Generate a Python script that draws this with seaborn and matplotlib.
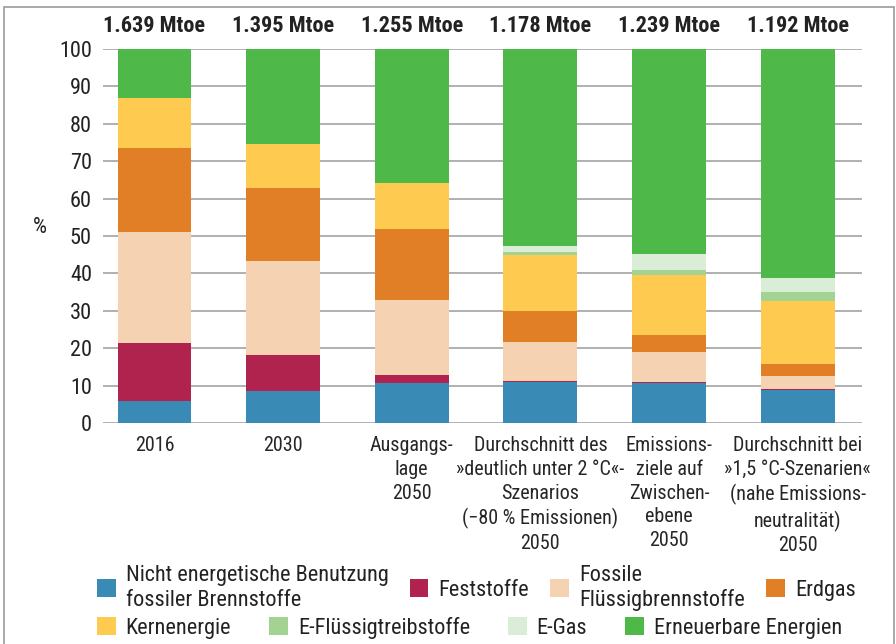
import numpy as np
import pandas as pd
import matplotlib
matplotlib.use("Agg")
import matplotlib.pyplot as plt
import seaborn as sns
from matplotlib import font_manager
from matplotlib.patches import Rectangle, Patch

# scenario keys, tick labels and totals on top
scenarios = ["2016", "2030", "base", "below2", "interim", "c15"]
tick_labels = [
    "2016",
    "2030",
    "Ausgangs-\nlage\n2050",
    "Durchschnitt des\n»deutlich unter 2 °C«-\nSzenarios\n(−80 % Emissionen)\n2050",
    "Emissions-\nziele auf\nZwischen-\nebene\n2050",
    "Durchschnitt bei\n»1,5 °C-Szenarien«\n(nahe Emissions-\nneutralität)\n2050",
]
totals = ["1.639 Mtoe", "1.395 Mtoe", "1.255 Mtoe", "1.178 Mtoe", "1.239 Mtoe", "1.192 Mtoe"]

# shares in % (bottom to top)
non_energy = [6.0, 8.7, 10.6, 10.9, 10.7, 8.8]
solids = [15.4, 9.4, 2.2, 0.3, 0.4, 0.2]
fossil_liquids = [29.7, 25.1, 20.1, 10.5, 8.0, 3.6]
natural_gas = [22.5, 19.7, 19.0, 8.3, 4.4, 3.1]
nuclear = [13.3, 11.7, 12.2, 15.0, 16.1, 16.9]
e_liquids = [0.0, 0.0, 0.0, 0.7, 1.4, 2.4]
e_gas = [0.0, 0.0, 0.0, 1.6, 4.1, 3.7]
renewables = [13.1, 25.4, 35.9, 52.7, 54.9, 61.3]

series_names = [
    "Nicht energetische Benutzung\nfossiler Brennstoffe",
    "Feststoffe",
    "Fossile\nFlüssigbrennstoffe",
    "Erdgas",
    "Kernenergie",
    "E-Flüssigtreibstoffe",
    "E-Gas",
    "Erneuerbare Energien",
]
series = [non_energy, solids, fossil_liquids, natural_gas, nuclear, e_liquids, e_gas, renewables]
colors = ["#3a8ab6", "#b0234e", "#f5d2b2", "#e07f25", "#fecb50", "#a3d392", "#daedd6", "#4eb849"]

sns.set_style("white")

# look for a narrow sans font, the original uses a condensed face
fonts = font_manager.fontManager.ttflist
names = {f.name for f in fonts}
family = None
stretch = "normal"
for cand in ["Roboto Condensed", "Liberation Sans Narrow", "DejaVu Sans Condensed",
             "Open Sans Condensed", "Noto Sans Condensed"]:
    if cand in names:
        family = cand
        break
if family is None:
    for f in fonts:
        if f.name in ("Noto Sans", "DejaVu Sans", "Open Sans", "Roboto") and \
                str(f.stretch) in ("condensed", "semi-condensed", "extra-condensed"):
            family = f.name
            stretch = "condensed"
            break
narrow = family is not None
if family is None:
    family = "DejaVu Sans"
plt.rcParams["font.family"] = [family, "DejaVu Sans"]
plt.rcParams["font.stretch"] = stretch
plt.rcParams["text.color"] = "#222222"

k = 1.0 if narrow else 0.85  # shrink when only a wide font is there

fig = plt.figure(figsize=(8.96, 6.44), dpi=100)
ax = fig.add_axes([0.115, 0.343, 0.847, 0.581])

df = pd.DataFrame(np.array(series).T, columns=series_names)
df["scenario"] = scenarios
cum = df[series_names].cumsum(axis=1)

# stacked bars: draw cumulative sums from top layer down
for name, col in reversed(list(zip(series_names, colors))):
    sns.barplot(x=df["scenario"], y=cum[name], color=col, width=0.575,
                linewidth=0, saturation=1, ax=ax, zorder=3)

ax.set_ylim(0, 100)
ax.set_xlim(-0.4, 5.5)
ax.set_yticks(range(0, 101, 10))
ax.yaxis.grid(True, color="#aaaaaa", linewidth=1.3, zorder=0)
ax.set_axisbelow(True)
for s in ax.spines.values():
    s.set_visible(False)
ax.tick_params(axis="y", length=0, pad=8, labelsize=16 * k, labelcolor="#222222")
ax.tick_params(axis="x", length=0, pad=9)
ax.set_xticks(range(len(scenarios)))
ax.set_xticklabels(tick_labels, fontsize=14.5 * k, linespacing=1.33, va="top")
ax.set_xlabel("")
ax.set_ylabel("")
ax.text(-0.083, 0.523, "%", transform=ax.transAxes, fontsize=16 * k, ha="center", va="center")

for i, t in enumerate(totals):
    ax.text(i, 106, t, ha="center", va="center", fontsize=16 * k, fontweight="bold")

# legend in two rows
handles = [Patch(facecolor=c, edgecolor="none") for c in colors]
fig.legend(handles[:4], series_names[:4], ncol=4, loc="center left",
           bbox_to_anchor=(0.108, 0.087), frameon=False, fontsize=16 * k,
           handlelength=0.85, handleheight=0.85, columnspacing=0.95,
           handletextpad=0.45, labelspacing=0.2, borderaxespad=0, borderpad=0)
fig.legend(handles[4:], series_names[4:], ncol=4, loc="center left",
           bbox_to_anchor=(0.108, 0.025), frameon=False, fontsize=16 * k,
           handlelength=0.85, handleheight=0.85, columnspacing=1.7,
           handletextpad=0.45, borderaxespad=0, borderpad=0)

# frame around figure
fig.patches.append(Rectangle((4 / 896, -0.05), 890 / 896, 1.05 - 7 / 644,
                             transform=fig.transFigure, fill=False,
                             edgecolor="#999999", linewidth=1.2))

fig.savefig("out.png", dpi=100)
